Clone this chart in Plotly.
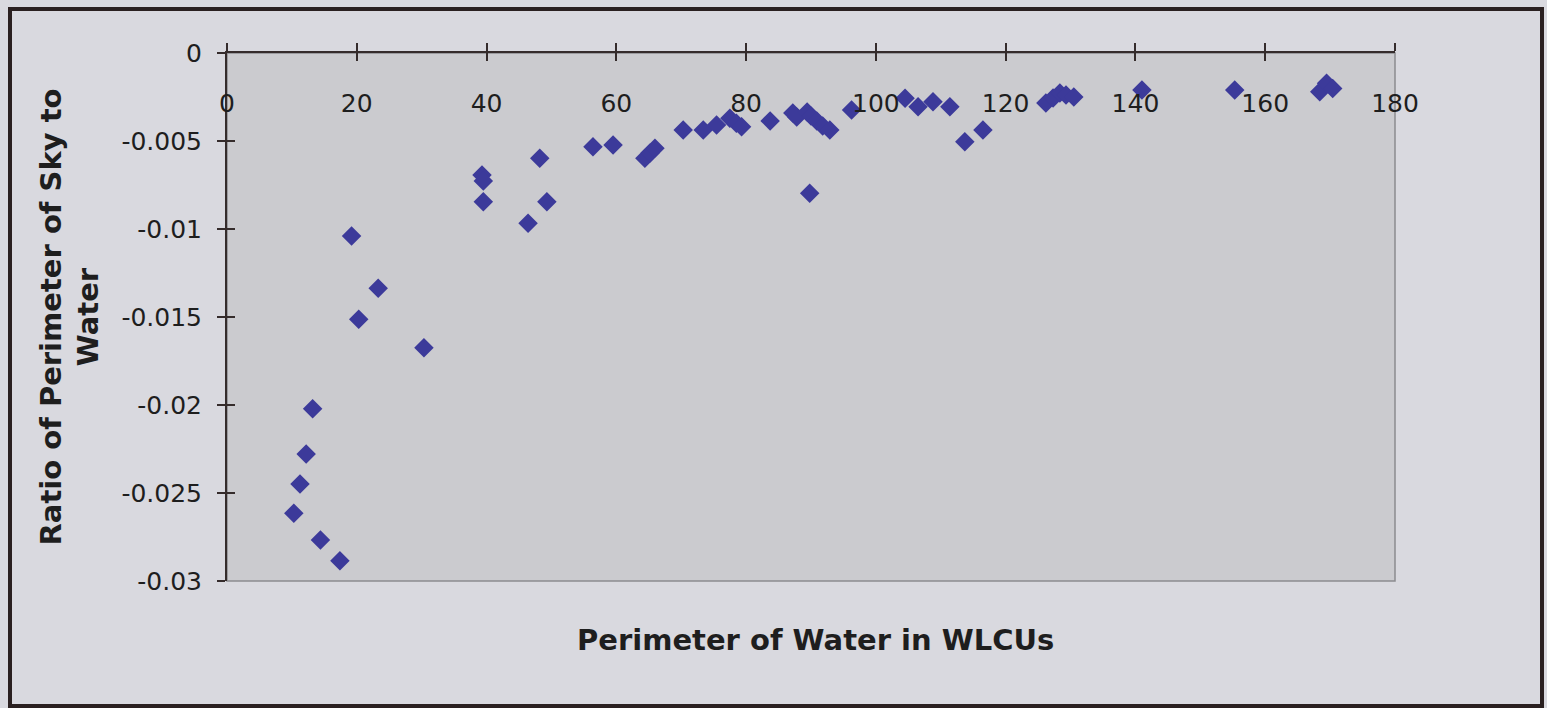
import plotly.graph_objects as go

# Perimeter of water (WLCUs) and the sky/water perimeter ratio for each sample
perimeter_water = [
    10.3, 11.25, 12.2, 13.2, 14.4, 17.4, 19.2, 20.3, 23.3, 30.35,
    39.3, 39.5, 39.5, 46.4, 48.2, 49.3, 56.4, 59.5, 64.4, 65.2,
    65.95, 70.3, 73.4, 75.45, 77.5, 78.5, 79.3, 83.7, 87.2, 87.8,
    89.4, 90.0, 90.9, 91.8, 92.9, 89.8, 96.25, 104.5, 106.5, 108.8,
    111.4, 113.7, 116.5, 126.2, 127.3, 128.35, 129.3, 130.5, 141.0, 155.3,
    168.4, 169.45, 170.4,
]
ratio_sky_water = [
    -0.02615, -0.02449, -0.02278, -0.02021, -0.02767, -0.02885, -0.0104, -0.01513, -0.01337, -0.01675,
    -0.00693, -0.00727, -0.00845, -0.00968, -0.00598, -0.00845, -0.00532, -0.00523, -0.00598, -0.00568,
    -0.00541, -0.00437, -0.00437, -0.00409, -0.00371, -0.00399, -0.00419, -0.00386, -0.00341, -0.00364,
    -0.00335, -0.00358, -0.00386, -0.00415, -0.00438, -0.00797, -0.00324, -0.00257, -0.00305, -0.00277,
    -0.00305, -0.00504, -0.00438, -0.00284, -0.00256, -0.00227, -0.00239, -0.0025, -0.0021, -0.0021,
    -0.0022, -0.00172, -0.00201,
]

x_ticks = [0, 20, 40, 60, 80, 100, 120, 140, 160, 180]
y_ticks = [0, -0.005, -0.01, -0.015, -0.02, -0.025, -0.03]
y_tick_text = ["0", "-0.005", "-0.01", "-0.015", "-0.02", "-0.025", "-0.03"]

AXIS_COLOR = "#352c2c"
TEXT_COLOR = "#1e1e1e"
MARKER_COLOR = "#3c3a9a"
TICK_FONT = dict(family="DejaVu Sans", size=25, color=TEXT_COLOR)
TITLE_FONT = dict(family="DejaVu Sans", size=29, color=TEXT_COLOR, weight="bold")

W, H = 1547, 708
L, R, T, B = 227, 152, 53, 127
PW, PH = W - L - R, H - T - B

fig = go.Figure()
fig.add_trace(go.Scatter(
    x=perimeter_water,
    y=ratio_sky_water,
    mode="markers",
    marker=dict(symbol="diamond", size=15, color=MARKER_COLOR, line=dict(width=0)),
    showlegend=False,
))
# empty trace so the overlay axes (inner half of the crossing ticks + x labels) get drawn
fig.add_trace(go.Scatter(x=[None], y=[None], xaxis="x2", yaxis="y2",
                         mode="markers", showlegend=False, hoverinfo="skip"))

common_x = dict(range=[0, 180], tickvals=x_ticks, showgrid=False, zeroline=False,
                fixedrange=True)
common_y = dict(range=[-0.03, 0], tickvals=y_ticks, showgrid=False, zeroline=False,
                fixedrange=True)

fig.update_layout(
    width=W, height=H, autosize=False,
    margin=dict(l=L, r=R, t=T, b=B, pad=0),
    paper_bgcolor="#d9d9df",
    plot_bgcolor="#cbcbcf",
    # value axis runs along the top edge (y = 0), tick marks crossing the line
    xaxis=dict(**common_x, side="top", showline=True, linecolor=AXIS_COLOR, linewidth=2,
               ticks="outside", ticklen=8, tickwidth=1.5, tickcolor=AXIS_COLOR,
               showticklabels=False),
    xaxis2=dict(**common_x, overlaying="x", side="top", showline=False,
                ticks="inside", ticklen=8, tickwidth=1.5, tickcolor=AXIS_COLOR,
                ticklabelposition="inside", ticklabeloverflow="allow",
                ticklabelstandoff=35, tickfont=TICK_FONT),
    yaxis=dict(**common_y, ticktext=y_tick_text, showline=True, linecolor=AXIS_COLOR,
               linewidth=2, ticks="outside", ticklen=8, tickwidth=1.5,
               tickcolor=AXIS_COLOR, tickfont=TICK_FONT, ticklabelstandoff=10,
               title=dict(text="Ratio of Perimeter of Sky to<br>Water",
                          font=TITLE_FONT, standoff=14)),
    yaxis2=dict(**common_y, overlaying="y", side="left", showline=False,
                ticks="inside", ticklen=8, tickwidth=1.5, tickcolor=AXIS_COLOR,
                showticklabels=False),
    annotations=[dict(
        text="Perimeter of Water in WLCUs", font=TITLE_FONT,
        xref="paper", yref="paper", x=(815 - L) / PW, y=(581 - 640) / PH,
        xanchor="center", yanchor="middle", showarrow=False,
    )],
    shapes=[
        # plot-area border (grey, right and bottom edges visible)
        dict(type="rect", xref="paper", yref="paper", x0=0, x1=1, y0=0, y1=1,
             line=dict(color="#8c8c90", width=1.5), layer="below"),
        # outer chart frame
        dict(type="rect", xref="paper", yref="paper",
             x0=(10 - L) / PW, x1=(1542 - L) / PW,
             y0=(581 - 706) / PH, y1=(581 - 9) / PH,
             line=dict(color="#2a2020", width=4)),
    ],
)

fig.write_html("out.html")
